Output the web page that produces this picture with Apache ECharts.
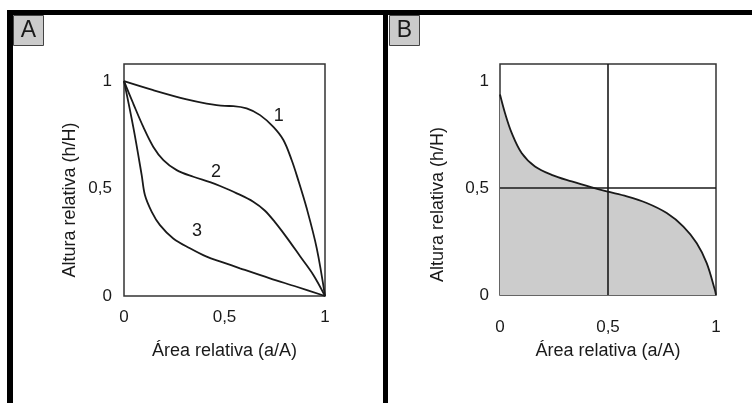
<!DOCTYPE html>
<html>
<head>
<meta charset="utf-8">
<script src="https://cdn.jsdelivr.net/npm/echarts@6/dist/echarts.min.js"></script>
<style>
  html, body { margin: 0; padding: 0; background: #fff; }
  #chart { width: 752px; height: 403px; }
</style>
</head>
<body>
<div id="chart"></div>
<script>
// curvas hipsométricas (painel A): pares [área relativa, altura relativa]
const curve1 = [
  [0, 1], [0.146, 0.958], [0.312, 0.915], [0.411, 0.896], [0.502, 0.885],
  [0.544, 0.884], [0.61, 0.873], [0.677, 0.842], [0.743, 0.787], [0.793, 0.726],
  [0.834, 0.633], [0.863, 0.551], [0.909, 0.408], [0.959, 0.222], [1, 0]
];
const curve2 = [
  [0, 1], [0.046, 0.896], [0.096, 0.787], [0.146, 0.694], [0.196, 0.633],
  [0.262, 0.586], [0.345, 0.555], [0.428, 0.53], [0.478, 0.512], [0.561, 0.478],
  [0.643, 0.439], [0.7, 0.398], [0.75, 0.345], [0.809, 0.273], [0.876, 0.185],
  [0.942, 0.098], [1, 0]
];
const curve3 = [
  [0, 1], [0.046, 0.787], [0.088, 0.563], [0.104, 0.47], [0.138, 0.392],
  [0.179, 0.33], [0.245, 0.268], [0.328, 0.222], [0.411, 0.183], [0.488, 0.158],
  [0.577, 0.129], [0.726, 0.082], [0.859, 0.043], [1, 0]
];
const curveNames = ["1", "2", "3"];
const curveLabelPos = [[0.77, 0.84], [0.458, 0.577], [0.363, 0.302]];

// painel B
const curveB = [
  [0, 0.937], [0.023, 0.851], [0.054, 0.758], [0.1, 0.664], [0.162, 0.601],
  [0.239, 0.562], [0.332, 0.531], [0.425, 0.503], [0.494, 0.484], [0.587, 0.461],
  [0.679, 0.43], [0.772, 0.383], [0.849, 0.32], [0.911, 0.242], [0.957, 0.149],
  [0.995, 0.023], [1, 0]
];

const tickValues = [0, 0.5, 1];
const tickLabels = ["0", "0,5", "1"];
const xTitle = "Área relativa (a/A)";
const yTitle = "Altura relativa (h/H)";

const font = "Liberation Sans";
const ink = "#1a1a1a";

const tickFmt = (v) => {
  const i = tickValues.findIndex((t) => Math.abs(t - v) < 1e-6);
  return i < 0 ? "" : tickLabels[i];
};

const makeX = (gridIndex, margin, gap) => ({
  gridIndex,
  type: "value",
  min: 0,
  max: 1,
  interval: 0.5,
  axisLine: { show: false },
  axisTick: { show: false },
  splitLine: { show: false },
  axisLabel: { formatter: tickFmt, color: ink, fontFamily: font, fontSize: 17, margin },
  name: xTitle,
  nameLocation: "middle",
  nameGap: gap,
  nameTextStyle: { color: ink, fontFamily: font, fontSize: 18 },
});

const makeY = (gridIndex, margin, gap, shift) => ({
  gridIndex,
  type: "value",
  min: 0,
  max: 1.08,
  interval: 0.5,
  axisLine: { show: false },
  axisTick: { show: false },
  splitLine: { show: false },
  axisLabel: { formatter: tickFmt, color: ink, fontFamily: font, fontSize: 17, margin, showMaxLabel: false },
  name: yTitle,
  nameLocation: "middle",
  nameGap: gap,
  nameTextStyle: { color: ink, fontFamily: font, fontSize: 18, padding: [0, shift, 0, 0] },
});

const lineStyle = { color: ink, width: 1.8 };

const chart = echarts.init(document.getElementById("chart"), null, { renderer: "canvas" });

const option = {
  backgroundColor: "#fff",
  animation: false,
  grid: [
    { left: 124, top: 64, width: 201, height: 232, show: true, borderColor: "#333", borderWidth: 1.5 },
    { left: 500, top: 64, width: 216, height: 231, show: true, borderColor: "#333", borderWidth: 1.5 },
  ],
  xAxis: [makeX(0, 13, 46), makeX(1, 24, 47)],
  yAxis: [makeY(0, 12, 45, 40), makeY(1, 11, 53, 50)],
  series: [
    ...[curve1, curve2, curve3].map((d, i) => ({
      name: curveNames[i],
      type: "line",
      xAxisIndex: 0,
      yAxisIndex: 0,
      data: d,
      smooth: 0.35,
      showSymbol: false,
      lineStyle,
    })),
    {
      // números das curvas
      type: "scatter",
      xAxisIndex: 0,
      yAxisIndex: 0,
      symbolSize: 1,
      itemStyle: { color: "transparent", opacity: 1 },
      data: curveLabelPos.map((p, i) => ({ value: p, name: curveNames[i] })),
      label: {
        show: true,
        position: "inside",
        formatter: "{b}",
        color: ink,
        opacity: 1,
        textBorderWidth: 0,
        fontFamily: font,
        fontSize: 18,
      },
    },
    {
      type: "line",
      xAxisIndex: 1,
      yAxisIndex: 1,
      data: curveB,
      smooth: 0.35,
      showSymbol: false,
      lineStyle,
      areaStyle: { color: "#cccccc", opacity: 1 },
      markLine: {
        silent: true,
        symbol: "none",
        label: { show: false },
        lineStyle: { color: ink, width: 1.6, type: "solid" },
        data: [{ xAxis: 0.5 }, { yAxis: 0.5 }],
      },
    },
  ],
  graphic: [
    // moldura preta
    { type: "rect", shape: { x: 7, y: 10, width: 745, height: 5 }, style: { fill: "#000" } },
    { type: "rect", shape: { x: 7, y: 10, width: 6, height: 393 }, style: { fill: "#000" } },
    { type: "rect", shape: { x: 383, y: 10, width: 5, height: 393 }, style: { fill: "#000" } },
    // rótulos dos painéis
    { type: "rect", shape: { x: 13.5, y: 15.5, width: 30, height: 30 }, style: { fill: "#cbcbcb", stroke: "#444", lineWidth: 1 } },
    { type: "text", x: 28.5, y: 31, style: { text: "A", font: "23px Liberation Sans", fill: ink, align: "center", verticalAlign: "middle" } },
    { type: "rect", shape: { x: 389.5, y: 15.5, width: 30, height: 30 }, style: { fill: "#cbcbcb", stroke: "#444", lineWidth: 1 } },
    { type: "text", x: 404.5, y: 31, style: { text: "B", font: "23px Liberation Sans", fill: ink, align: "center", verticalAlign: "middle" } },
  ],
};

chart.setOption(option);
window.addEventListener("resize", () => chart.resize());
</script>
</body>
</html>
